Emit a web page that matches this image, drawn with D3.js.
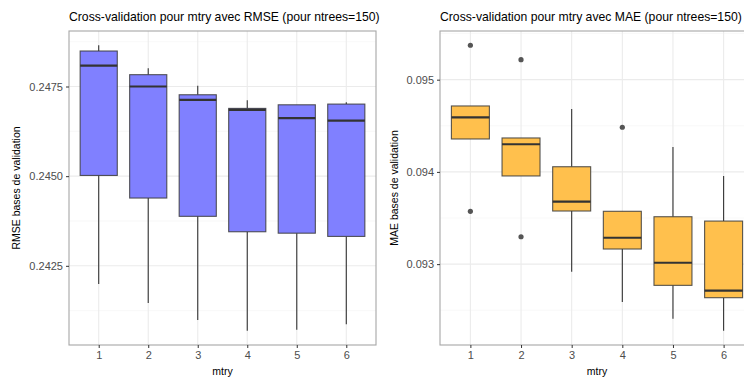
<!DOCTYPE html>
<html>
<head>
<meta charset="utf-8">
<script src="https://cdn.jsdelivr.net/npm/d3@7"></script>
<style>
  body { margin: 0; background: #fff; }
  svg { display: block; font-family: "Liberation Sans", Arial, sans-serif; }
</style>
</head>
<body>
<div id="chart"></div>
<script>
const svgWidth = 744
const svgHeight = 377

// mtry categories
const mtry = ["1", "2", "3", "4", "5", "6"]

// RMSE boxplot stats per mtry
const rmseLow  = [0.24199, 0.24146, 0.24099, 0.24069, 0.24072, 0.24087]
const rmseQ1   = [0.24502, 0.24439, 0.24388, 0.24345, 0.24341, 0.24332]
const rmseMed  = [0.24808, 0.24750, 0.24713, 0.24685, 0.24662, 0.24655]
const rmseQ3   = [0.24849, 0.24783, 0.24727, 0.24689, 0.24699, 0.24701]
const rmseHigh = [0.24865, 0.24801, 0.24752, 0.24712, 0.24699, 0.24706]
const rmseOut  = []

// MAE boxplot stats per mtry
const maeLow  = [0.094357, 0.093956, 0.092918, 0.092589, 0.092408, 0.092278]
const maeQ1   = [0.094357, 0.093956, 0.093576, 0.093164, 0.092770, 0.092636]
const maeMed  = [0.094592, 0.094300, 0.093677, 0.093286, 0.093015, 0.092712]
const maeQ3   = [0.094715, 0.094368, 0.094056, 0.093573, 0.093514, 0.093467]
const maeHigh = [0.094715, 0.094368, 0.094682, 0.093573, 0.094270, 0.093956]
const maeOut  = [["1", 0.095373], ["1", 0.093573], ["2", 0.095217], ["2", 0.093297], ["4", 0.094484]]

const rmseTicks = [0.2425, 0.2450, 0.2475]
const maeTicks = [0.093, 0.094, 0.095]

let svg = d3.select("#chart")
  .append("svg")
  .attr("width", svgWidth)
  .attr("height", svgHeight)

function buildRows(low, q1, med, q3, high) {
  return mtry.map((m, i) => ({ m: m, low: low[i], q1: q1[i], med: med[i], q3: q3[i], high: high[i] }))
}

function drawPanel(opts) {
  let { left, right, top, bottom, rows, outliers, ticks, fmt, fill, title, ylab, ylabX } = opts

  let all = rows.flatMap(d => [d.low, d.high]).concat(outliers.map(o => o[1]))
  let lo = d3.min(all), hi = d3.max(all)
  let pad = (hi - lo) * 0.05

  let y = d3.scaleLinear().domain([lo - pad, hi + pad]).range([bottom, top])
  // discrete axis with 0.6 unit expansion each side
  let step = (right - left) / (mtry.length - 1 + 1.2)
  let x = d3.scalePoint().domain(mtry).range([left + 0.6 * step, right - 0.6 * step])

  let g = svg.append("g")

  // grid
  let minor = []
  for (let i = 0; i < ticks.length + 1; i++) {
    let t = i === 0 ? ticks[0] - (ticks[1] - ticks[0]) / 2 : ticks[i - 1] + (ticks[1] - ticks[0]) / 2
    if (t > y.domain()[0] && t < y.domain()[1]) minor.push(t)
  }
  g.selectAll(".minor").data(minor).enter().append("line")
    .attr("x1", left).attr("x2", right)
    .attr("y1", d => y(d)).attr("y2", d => y(d))
    .attr("stroke", "#f3f3f3").attr("stroke-width", 0.6)
  g.selectAll(".major-y").data(ticks).enter().append("line")
    .attr("x1", left).attr("x2", right)
    .attr("y1", d => y(d)).attr("y2", d => y(d))
    .attr("stroke", "#ebebeb").attr("stroke-width", 1.1)
  g.selectAll(".major-x").data(mtry).enter().append("line")
    .attr("x1", d => x(d)).attr("x2", d => x(d))
    .attr("y1", top).attr("y2", bottom)
    .attr("stroke", "#ebebeb").attr("stroke-width", 1.1)

  let bw = step * 0.75

  // whiskers
  g.selectAll(".whisk-up").data(rows).enter().append("line")
    .attr("x1", d => x(d.m)).attr("x2", d => x(d.m))
    .attr("y1", d => y(d.q3)).attr("y2", d => y(d.high))
    .attr("stroke", "#333").attr("stroke-width", 1.1)
  g.selectAll(".whisk-down").data(rows).enter().append("line")
    .attr("x1", d => x(d.m)).attr("x2", d => x(d.m))
    .attr("y1", d => y(d.q1)).attr("y2", d => y(d.low))
    .attr("stroke", "#333").attr("stroke-width", 1.1)

  // boxes
  g.selectAll(".box").data(rows).enter().append("rect")
    .attr("x", d => x(d.m) - bw / 2)
    .attr("width", bw)
    .attr("y", d => y(d.q3))
    .attr("height", d => y(d.q1) - y(d.q3))
    .attr("fill", fill)
    .attr("stroke", "#3a3a3a").attr("stroke-opacity", 0.85).attr("stroke-width", 1.1)

  // medians
  g.selectAll(".med").data(rows).enter().append("line")
    .attr("x1", d => x(d.m) - bw / 2).attr("x2", d => x(d.m) + bw / 2)
    .attr("y1", d => y(d.med)).attr("y2", d => y(d.med))
    .attr("stroke", "#333").attr("stroke-width", 2.2)

  // outliers
  g.selectAll(".out").data(outliers).enter().append("circle")
    .attr("cx", d => x(d[0])).attr("cy", d => y(d[1]))
    .attr("r", 2.6).attr("fill", "#555")

  // panel border
  g.append("rect")
    .attr("x", left).attr("y", top)
    .attr("width", right - left).attr("height", bottom - top)
    .attr("fill", "none").attr("stroke", "#a6a6a6").attr("stroke-width", 1.1)

  // axes
  let yAxis = g.append("g")
    .attr("transform", `translate(${left}, 0)`)
    .call(d3.axisLeft(y).tickValues(ticks).tickFormat(fmt).tickSize(3).tickPadding(3))
  let xAxis = g.append("g")
    .attr("transform", `translate(0, ${bottom})`)
    .call(d3.axisBottom(x).tickSize(3).tickPadding(3))
  ;[yAxis, xAxis].forEach(a => {
    a.select(".domain").remove()
    a.selectAll(".tick line").attr("stroke", "#333")
    a.selectAll("text").attr("fill", "#4d4d4d").attr("font-size", "11px").attr("font-family", "Liberation Sans, Arial, sans-serif")
  })

  // titles
  g.append("text")
    .attr("x", left).attr("y", 21)
    .attr("font-size", "12.2px").attr("fill", "#000")
    .text(title)
  g.append("text")
    .attr("x", (left + right) / 2).attr("y", 375)
    .attr("text-anchor", "middle")
    .attr("font-size", "10.5px").attr("fill", "#000")
    .text("mtry")
  g.append("text")
    .attr("transform", `translate(${ylabX}, ${(top + bottom) / 2}) rotate(-90)`)
    .attr("text-anchor", "middle")
    .attr("font-size", "10.5px").attr("fill", "#000")
    .text(ylab)
}

drawPanel({
  left: 69, right: 376, top: 31, bottom: 345,
  rows: buildRows(rmseLow, rmseQ1, rmseMed, rmseQ3, rmseHigh),
  outliers: rmseOut,
  ticks: rmseTicks, fmt: d3.format(".4f"),
  fill: "#8080ff",
  title: "Cross-validation pour mtry avec RMSE (pour ntrees=150)",
  ylab: "RMSE bases de validation", ylabX: 19.5
})

drawPanel({
  left: 440, right: 754, top: 31, bottom: 345,
  rows: buildRows(maeLow, maeQ1, maeMed, maeQ3, maeHigh),
  outliers: maeOut,
  ticks: maeTicks, fmt: d3.format(".3f"),
  fill: "#ffc04d",
  title: "Cross-validation pour mtry avec MAE (pour ntrees=150)",
  ylab: "MAE bases de validation", ylabX: 398
})
</script>
</body>
</html>
